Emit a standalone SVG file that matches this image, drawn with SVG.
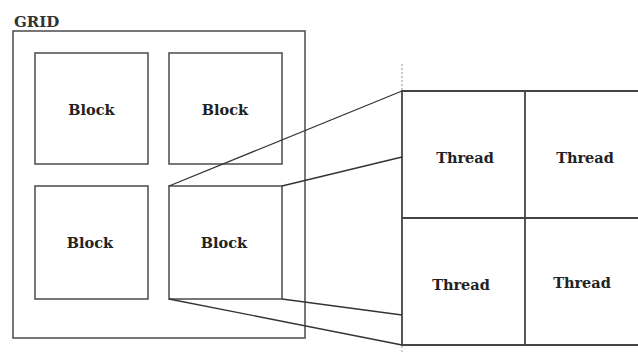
<svg xmlns="http://www.w3.org/2000/svg" width="638" height="354" viewBox="0 0 638 354">
  <style>
    .box { fill: none; stroke: #555; stroke-width: 1.6; }
    .grid { fill: none; stroke: #444; stroke-width: 1.8; }
    .link { fill: none; stroke: #333; stroke-width: 1.3; }
    .guide { fill: none; stroke: #999; stroke-width: 1; stroke-dasharray: 2 2; }
    .lbl { font-family: "DejaVu Serif", "Liberation Serif", serif; font-weight: bold; font-size: 14.5px; fill: #222; text-anchor: middle; }
    .title { font-family: "DejaVu Serif", "Liberation Serif", serif; font-weight: bold; font-size: 15px; fill: #333; }
  </style>
  <rect width="638" height="354" fill="#fff"/>

  <g id="grid">
    <rect class="box" x="13" y="31" width="292" height="307"/>
    <text class="title" x="14" y="27">GRID</text>
  </g>

  <g id="block-1">
    <rect class="box" x="35" y="53" width="113" height="111"/>
    <text class="lbl" x="91.5" y="115">Block</text>
  </g>
  <g id="block-2">
    <rect class="box" x="169" y="53" width="113" height="111"/>
    <text class="lbl" x="225" y="115">Block</text>
  </g>
  <g id="block-3">
    <rect class="box" x="35" y="186" width="113" height="113"/>
    <text class="lbl" x="90" y="248">Block</text>
  </g>
  <g id="block-4">
    <rect class="box" x="169" y="186" width="113" height="113"/>
    <text class="lbl" x="224" y="248">Block</text>
  </g>

  <g id="thread-grid">
    <line class="guide" x1="402" y1="64" x2="402" y2="90"/>
    <line class="guide" x1="402" y1="346" x2="402" y2="354"/>
    <polyline class="grid" points="640,91 402,91 402,345 640,345"/>
    <line class="grid" x1="525" y1="91" x2="525" y2="345"/>
    <line class="grid" x1="402" y1="218" x2="640" y2="218"/>
  </g>
  <g id="thread-1"><text class="lbl" x="465" y="163">Thread</text></g>
  <g id="thread-2"><text class="lbl" x="585" y="163">Thread</text></g>
  <g id="thread-3"><text class="lbl" x="461" y="290">Thread</text></g>
  <g id="thread-4"><text class="lbl" x="582" y="288">Thread</text></g>

  <g id="connectors">
    <line class="link" x1="169" y1="186" x2="402" y2="91"/>
    <line class="link" x1="282" y1="186" x2="402" y2="157"/>
    <line class="link" x1="169" y1="299" x2="402" y2="345"/>
    <line class="link" x1="282" y1="299" x2="402" y2="315"/>
  </g>
</svg>
